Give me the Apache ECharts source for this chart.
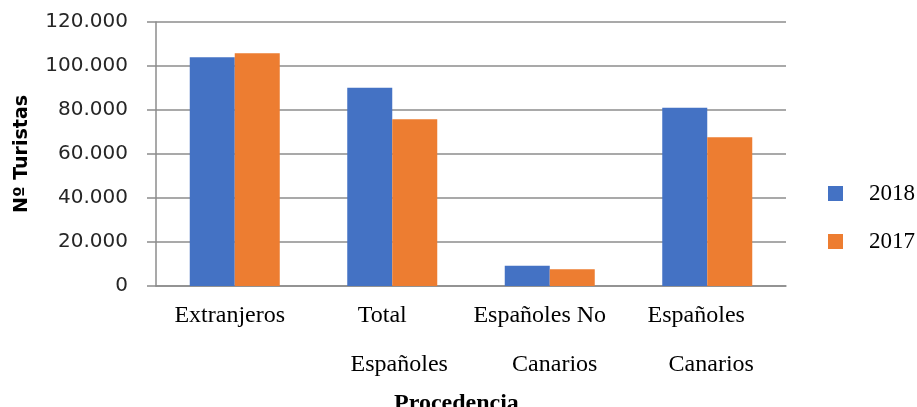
<!DOCTYPE html>
<html>
<head>
<meta charset="utf-8">
<script src="https://cdn.jsdelivr.net/npm/echarts@6/dist/echarts.min.js"></script>
<style>html,body{margin:0;padding:0;background:#fff}#c{width:917px;height:407px}</style>
</head>
<body>
<div id="c"></div>
<script>
const categories = ["Extranjeros", "Total\nEspañoles", "Españoles No\nCanarios", "Españoles\nCanarios"];
const seriesNames = ["2018", "2017"];
const values2018 = [104000, 90100, 9200, 81000];
const values2017 = [105800, 75800, 7600, 67600];
const yTicks = { min: 0, max: 120000, interval: 20000 };

function fmt(v) {
  return String(v).replace(/\B(?=(\d{3})+(?!\d))/g, ".");
}

// layout: horizontal nudges (px) of each label line, as in the source's word wrapping
const lineShift = [[-5], [-10, 7], [-10, 5], [-11, 4]];
const rich = {};
lineShift.forEach((shifts, i) => shifts.forEach((d, j) => {
  rich['l' + i + '_' + j] = {
    fontFamily: 'Liberation Serif', fontSize: 24, lineHeight: 49, color: '#000',
    padding: d >= 0 ? [0, 0, 0, 2 * d] : [0, -2 * d, 0, 0]
  };
}));
function xLabel(value, index) {
  return value.split('\n').map((line, j) => '{l' + index + '_' + j + '|' + line + '}').join('\n');
}

const chart = echarts.init(document.getElementById('c'), null, { renderer: 'canvas' });
chart.setOption({
  animation: false,
  backgroundColor: '#ffffff',
  grid: { left: 156, right: 131, top: 22, bottom: 121, containLabel: false },
  legend: {
    orient: 'vertical',
    left: 828,
    top: 182,
    padding: 0,
    itemWidth: 15,
    itemHeight: 15,
    itemGap: 25,
    icon: 'rect',
    textStyle: { fontFamily: 'Liberation Serif', fontSize: 23, color: '#000', padding: [0, 0, 0, 21], lineHeight: 23 },
    data: seriesNames
  },
  xAxis: {
    type: 'category',
    data: categories,
    axisLine: { show: true, lineStyle: { color: '#8c8c8c', width: 1.5 } },
    axisTick: { show: false },
    axisLabel: {
      interval: 0,
      margin: 5,
      fontFamily: 'Liberation Serif',
      fontSize: 24,
      lineHeight: 49,
      color: '#000',
      formatter: xLabel,
      rich: rich
    }
  },
  yAxis: {
    type: 'value',
    min: yTicks.min,
    max: yTicks.max,
    interval: yTicks.interval,
    name: 'Nº Turistas',
    nameLocation: 'middle',
    nameGap: 124,
    nameTextStyle: { fontFamily: 'DejaVu Sans', fontWeight: 'bold', fontSize: 19, color: '#000' },
    axisLine: { show: true, lineStyle: { color: '#8c8c8c', width: 1.5 } },
    axisTick: { show: true, length: 9, lineStyle: { color: '#8c8c8c', width: 1.5 } },
    splitLine: { show: true, lineStyle: { color: '#8c8c8c', width: 1.5 } },
    axisLabel: {
      margin: 28,
      fontFamily: 'DejaVu Sans',
      fontSize: 20,
      color: '#262626',
      formatter: fmt
    }
  },
  graphic: [{
    type: 'text',
    left: 456 - 62,
    top: 392,
    style: { text: 'Procedencia', fontFamily: 'Liberation Serif', fontWeight: 'bold', fontSize: 24, fill: '#000' }
  }],
  series: [
    { name: seriesNames[0], type: 'bar', data: values2018, barWidth: 45, barGap: '0%', itemStyle: { color: '#4472C4' } },
    { name: seriesNames[1], type: 'bar', data: values2017, barWidth: 45, barGap: '0%', itemStyle: { color: '#ED7D31' } }
  ]
});
</script>
</body>
</html>
